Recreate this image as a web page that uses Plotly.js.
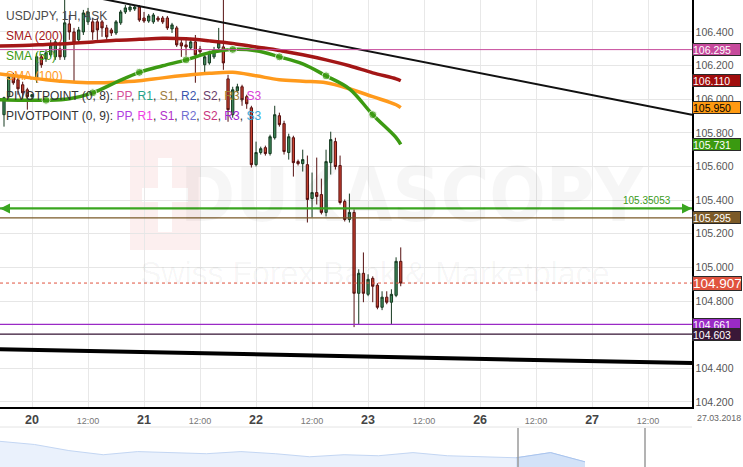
<!DOCTYPE html>
<html><head><meta charset="utf-8">
<script src="https://cdn.plot.ly/plotly-3.0.1.min.js"></script>
<style>html,body{margin:0;padding:0;background:#fff;}#chart{width:743px;height:467px;}</style>
</head><body><div id="chart"></div>
<script>
// ---- DATA ----
// x = trading hours since 2018-03-20 00:00 (weekend removed)
const firstCandleHour = -6;
const candleOpen = [
105.908,106.015,106.139,106.116,106.086,106.056,106.015,106.116,106.252,106.240,
106.264,106.252,106.299,106.252,106.448,106.400,106.353,106.400,106.460,106.460,
106.460,106.460,106.424,106.412,106.394,106.454,106.519,106.531,106.537,106.548,
106.483,106.465,106.460,106.483,106.483,106.483,106.418,106.424,106.335,106.323,
106.305,106.341,106.299,106.205,106.216,106.252,106.305,106.311,106.121,105.908,
106.050,106.074,106.015,105.949,105.611,105.683,105.712,105.677,105.771,105.902,
105.855,105.683,105.771,105.629,105.617,105.611,105.410,105.445,105.433,105.327,
105.623,105.748,105.606,105.392,105.285,105.327,104.846,104.965,104.840,104.935,
104.894,104.763,104.823,104.793,104.834,105.036];
const candleHigh = [
106.015,106.151,106.157,106.127,106.104,106.068,106.032,106.276,106.264,106.293,
106.353,106.353,106.323,106.600,106.501,106.424,106.430,106.531,106.543,106.483,
106.483,106.471,106.442,106.424,106.471,106.531,106.560,106.560,106.560,106.560,
106.519,106.507,106.513,106.495,106.495,106.495,106.454,106.436,106.353,106.353,
106.365,106.382,106.317,106.264,106.288,106.311,106.424,106.600,106.145,106.074,
106.092,106.086,106.027,105.961,105.748,105.718,105.724,105.789,105.961,105.920,
105.872,105.795,105.783,105.641,105.700,105.665,105.564,105.653,105.528,105.700,
105.807,105.771,105.665,105.404,105.439,105.345,104.989,105.089,104.959,104.947,
104.906,104.858,104.858,104.870,105.060,105.119];
const candleLow = [
105.837,105.997,106.086,106.027,105.997,105.938,105.997,106.098,106.187,106.222,
106.252,106.234,106.234,106.234,106.353,106.104,106.335,106.382,106.442,106.353,
106.353,106.371,106.353,106.376,106.382,106.442,106.507,106.519,106.525,106.460,
106.454,106.454,106.448,106.460,106.448,106.412,106.394,106.311,106.252,106.252,
106.293,106.098,106.264,106.145,106.205,106.240,106.293,106.175,105.866,105.890,
106.038,105.961,105.943,105.594,105.600,105.671,105.665,105.665,105.760,105.837,
105.671,105.641,105.540,105.606,105.570,105.267,105.297,105.374,105.315,105.303,
105.552,105.582,105.374,105.273,105.267,104.645,104.662,104.793,104.829,104.793,
104.751,104.746,104.781,104.662,104.823,104.888];
const candleClose = [
106.009,106.133,106.098,106.062,106.038,106.015,106.027,106.252,106.205,106.276,
106.323,106.341,106.252,106.454,106.400,106.335,106.412,106.513,106.519,106.400,
106.412,106.424,106.371,106.394,106.460,106.519,106.543,106.548,106.548,106.471,
106.465,106.495,106.501,106.471,106.460,106.424,106.442,106.323,106.317,106.311,
106.341,106.264,106.282,106.252,106.276,106.293,106.335,106.216,105.938,106.056,
106.074,105.997,105.973,105.611,105.683,105.706,105.677,105.777,105.908,105.849,
105.689,105.777,105.623,105.617,105.641,105.404,105.445,105.422,105.327,105.629,
105.760,105.600,105.386,105.285,105.327,104.846,104.965,104.846,104.929,104.888,
104.763,104.823,104.793,104.840,105.036,104.907];

const smaHour = [-7,-2,3,8,13,18,23,28,33,38,43,48,53,58,63,68,73,78,79];
const sma200 = [106.317,106.320,106.326,106.332,106.341,106.350,106.356,106.362,106.359,106.347,106.332,106.311,106.290,106.264,106.234,106.199,106.157,106.121,106.110];
const sma100 = [106.151,106.133,106.116,106.104,106.098,106.101,106.110,106.127,106.142,106.154,106.160,106.139,106.116,106.107,106.098,106.062,106.015,105.967,105.950];
const sma50  = [105.997,105.994,105.994,106.003,106.038,106.101,106.160,106.199,106.234,106.276,106.296,106.288,106.252,106.210,106.139,106.062,105.908,105.772,105.731];

const trendThinHour = [10, 141.4];
const trendThinPrice = [106.624, 105.908];
const trendThickHour = [-6.86, 141.4];
const trendThickPrice = [104.514, 104.431];

const hLevel = 105.35053;
const pivotLevels = [106.295, 105.295, 104.661, 104.603];
const lastPrice = 104.907;

const tickHours = [0,12,24,36,48,60,72,84,96,108,120,132];
const tickLabels = ['20','12:00','21','12:00','22','12:00','23','12:00','26','12:00','27','12:00'];
const priceTicks = [104.2,104.4,104.6,104.8,105.0,105.2,105.4,105.6,105.8,106.0,106.2,106.4];

const navIndex = [0,1,2,3,4,5,6,7,8,9,10,11,12,13,14,15,16,17];
const navPrice = [106.78,106.44,105.78,105.33,105.67,105.56,105.44,105.67,105.44,105.11,105.33,105.22,105.56,105.22,105.11,105.00,105.56,104.56];

// ---- BUILD ----
const candleHour = candleOpen.map((_, i) => firstCandleHour + i);
const W = 743, H = 467, PW = 692;
const py = p => 1 - p / H;   // paper y from pixel y
const px = p => p / PW;      // paper x from pixel x

const traces = [
  {type:'candlestick', x:candleHour, open:candleOpen, high:candleHigh, low:candleLow, close:candleClose,
   increasing:{line:{color:'#163a20', width:1}, fillcolor:'#3d8a5a'},
   decreasing:{line:{color:'#561010', width:1}, fillcolor:'#c8412f'},
   whiskerwidth:0, hoverinfo:'skip', xaxis:'x', yaxis:'y'},
  {type:'scatter', mode:'lines', x:smaHour, y:sma200,
   line:{color:'#a31616', width:3.5, shape:'spline'}, hoverinfo:'skip'},
  {type:'scatter', mode:'lines', x:smaHour, y:sma100,
   line:{color:'#ff9a1c', width:3.5, shape:'spline'}, hoverinfo:'skip'},
  {type:'scatter', mode:'lines+markers', x:smaHour, y:sma50,
   line:{color:'#3c9a12', width:3.5, shape:'spline'},
   marker:{color:'#3c9a12', size:smaHour.map((_,i)=> (i>=2 && i<=16 && i%2===0) ? 8 : 0)}, hoverinfo:'skip'},
  {type:'scatter', mode:'lines', x:trendThinHour, y:trendThinPrice,
   line:{color:'#111', width:2}, hoverinfo:'skip'},
  {type:'scatter', mode:'lines', x:trendThickHour, y:trendThickPrice,
   line:{color:'#000', width:4}, hoverinfo:'skip'},
  {type:'scatter', mode:'lines', x:navIndex, y:navPrice, fill:'tozeroy',
   fillcolor:'#eaf1fc', line:{color:'#c3d6f3', width:1}, xaxis:'x2', yaxis:'y2', hoverinfo:'skip'},
  {type:'scatter', mode:'lines', x:navIndex.slice(15), y:navPrice.slice(15), fill:'tozeroy',
   fillcolor:'#d3e2f8', line:{color:'#a9c4ee', width:1}, xaxis:'x2', yaxis:'y2', hoverinfo:'skip'}
];

const boxes = [
  {v:pivotLevels[0], bg:'#c64a9c', fg:'#fff'},
  {v:sma200[sma200.length-1], bg:'#a00d0d', fg:'#fff'},
  {v:sma100[sma100.length-1], bg:'#ff9a12', fg:'#000'},
  {v:sma50[sma50.length-1], bg:'#3a9a10', fg:'#fff'},
  {v:pivotLevels[1], bg:'#7b5a28', fg:'#fff'},
  {v:lastPrice, bg:'#e0533f', fg:'#fff', big:true},
  {v:pivotLevels[2], bg:'#9a2ac6', fg:'#fff'},
  {v:pivotLevels[3], bg:'#3a1838', fg:'#fff'}
];

const ann = [];
// watermark (very faint)
ann.push({xref:'paper', yref:'paper', x:px(412), y:py(195), xanchor:'center', yanchor:'middle', showarrow:false,
  text:'<b>DUKASCOPY</b>', font:{family:'DejaVu Sans Condensed, DejaVu Sans', size:74, color:'rgba(0,0,0,0.035)'}});
ann.push({xref:'paper', yref:'paper', x:px(375), y:py(273), xanchor:'center', yanchor:'middle', showarrow:false,
  text:'Swiss Forex Bank &amp; Marketplace', font:{family:'Liberation Sans', size:32, color:'rgba(0,0,0,0.04)'}});

const C = (c,t)=>`<span style="color:${c}">${t}</span>`;
const legendLines = [
  {t:C('#4a4a4a','USD/JPY, 1H, ASK'), y:15.5},
  {t:C('#a31616','SMA (200)'), y:35.5},
  {t:C('#3c9a12','SMA (50)'), y:55.5},
  {t:C('#ff9a1c','SMA (100)'), y:75.5},
  {t:C('#333','PIVOTPOINT (0, 8): ')+C('#d4519b','PP')+C('#333',', ')+C('#23a38a','R1')+C('#333',', ')+C('#9c7b3c','S1')+C('#333',', ')+C('#3a55ad','R2')+C('#333',', ')+C('#6b3d6b','S2')+C('#333',', ')+C('#a07d2e','R3')+C('#333',', ')+C('#d83fd8','S3'), y:96},
  {t:C('#333','PIVOTPOINT (0, 9): ')+C('#b13fe0','PP')+C('#333',', ')+C('#f23ce6','R1')+C('#333',', ')+C('#b12fc9','S1')+C('#333',', ')+C('#6f70d0','R2')+C('#333',', ')+C('#c8357e','S2')+C('#333',', ')+C('#9b25d0','R3')+C('#333',', ')+C('#3aa6d6','S3'), y:116}
];
legendLines.forEach(l => ann.push({xref:'paper', yref:'paper', x:0, xshift:4, y:py(l.y), xanchor:'left', yanchor:'middle',
  showarrow:false, text:l.t, font:{family:'Liberation Sans, Arial', size:12}}));

// right value boxes
boxes.forEach(b => ann.push({xref:'paper', yref:'y', x:1, y:b.v, xanchor:'left', yanchor:'middle', showarrow:false,
  text:b.v.toFixed(3), bgcolor:b.bg, bordercolor:'#2a2a2a', borderwidth:1, borderpad:0,
  width: b.big ? 48 : 47, height: b.big ? 13 : 11, align:'left',
  font:{family:'Liberation Sans, Arial', size: b.big ? 13.5 : 10.5, color:b.fg}}));

// green level line arrows and label
ann.push({xref:'x', yref:'y', x:-6.857, y:hLevel, ax:10, ay:0, text:'', showarrow:true, arrowhead:2, arrowsize:1, arrowwidth:2, arrowcolor:'#3aa620'});
ann.push({xref:'x', yref:'y', x:141.4, y:hLevel, ax:-10, ay:0, text:'', showarrow:true, arrowhead:2, arrowsize:1, arrowwidth:2, arrowcolor:'#3aa620'});
ann.push({xref:'paper', yref:'y', x:px(673), y:hLevel, yshift:8, xanchor:'right', yanchor:'middle', showarrow:false,
  text:hLevel.toFixed(5), font:{family:'Liberation Sans, Arial', size:10, color:'#3a9a20'}});
// date label
ann.push({xref:'paper', yref:'paper', x:1, xshift:3, y:py(418), xanchor:'left', yanchor:'middle', showarrow:false,
  text:'27.03.2018', font:{family:'Liberation Sans, Arial', size:8.8, color:'#666'}});

const shapes = [
  // watermark logo block
  {type:'rect', xref:'paper', yref:'paper', x0:px(130), x1:px(200), y0:py(250), y1:py(140), fillcolor:'#fcefef', line:{width:0}, layer:'below'},
  {type:'rect', xref:'paper', yref:'paper', x0:px(158), x1:px(172), y0:py(232), y1:py(158), fillcolor:'#ffffff', line:{width:0}, layer:'below'},
  {type:'rect', xref:'paper', yref:'paper', x0:px(142), x1:px(188), y0:py(202), y1:py(188), fillcolor:'#ffffff', line:{width:0}, layer:'below'},
  // level lines
  {type:'line', xref:'paper', x0:0, x1:1, yref:'y', y0:pivotLevels[0], y1:pivotLevels[0], line:{color:'#c64a9c', width:1}},
  {type:'line', xref:'paper', x0:0, x1:1, yref:'y', y0:pivotLevels[1], y1:pivotLevels[1], line:{color:'#7b5a28', width:1.2}},
  {type:'line', xref:'paper', x0:0, x1:1, yref:'y', y0:pivotLevels[2], y1:pivotLevels[2], line:{color:'#9a2ac6', width:1.2}},
  {type:'line', xref:'paper', x0:0, x1:1, yref:'y', y0:pivotLevels[3], y1:pivotLevels[3], line:{color:'#3a1838', width:1.2}},
  {type:'line', xref:'paper', x0:0, x1:1, yref:'y', y0:lastPrice, y1:lastPrice, line:{color:'#e0533f', width:1, dash:'3px,3px'}},
  {type:'line', xref:'paper', x0:0, x1:1, yref:'y', y0:hLevel, y1:hLevel, line:{color:'#3aa620', width:2.2}},
  // navigator frame
  {type:'line', xref:'paper', yref:'paper', x0:0, x1:1, y0:py(427), y1:py(427), line:{color:'#e4e4e4', width:1}},
  {type:'line', xref:'paper', yref:'paper', x0:px(518), x1:px(518), y0:0, y1:py(428), line:{color:'#9a9a9a', width:1.5}},
  {type:'line', xref:'paper', yref:'paper', x0:px(645), x1:px(645), y0:0, y1:py(428), line:{color:'#9a9a9a', width:1.5}}
];

const layout = {
  width:W, height:H, margin:{l:0, r:W-PW, t:0, b:0}, paper_bgcolor:'#fff', plot_bgcolor:'#fff',
  showlegend:false, font:{family:'Liberation Sans, Arial, sans-serif', size:11, color:'#555'},
  xaxis:{type:'linear', range:[-6.857, 141.4], domain:[0,1], anchor:'y',
    tickmode:'array', tickvals:tickHours,
    ticktext:tickLabels.map(t => t.indexOf(':')>=0 ? `<span style="font-size:9px;color:#777">${t}</span>` : `<b>${t}</b>`),
    tickfont:{size:12.5, color:'#444'}, showgrid:true, gridcolor:'#e8e8e8', gridwidth:1, zeroline:false,
    showline:true, linecolor:'#000', linewidth:1.5, ticks:'', rangeslider:{visible:false}, fixedrange:true},
  yaxis:{side:'right', range:[104.17, 106.59], domain:[60/H, 1], anchor:'x',
    tickmode:'array', tickvals:priceTicks, ticktext:priceTicks.map(v=>v.toFixed(3)),
    tickfont:{size:10.5, color:'#555'}, showgrid:true, gridcolor:'#e6e6e6', zeroline:false,
    showline:true, linecolor:'#000', linewidth:1.5, ticks:'', fixedrange:true},
  xaxis2:{domain:[0,1], anchor:'y2', range:[0, 17*PW/585], visible:false, fixedrange:true},
  yaxis2:{domain:[0, 36/H], anchor:'x2', range:[104, 107.9], visible:false, fixedrange:true},
  shapes:shapes, annotations:ann
};

Plotly.newPlot('chart', traces, layout, {staticPlot:true, displayModeBar:false});
</script></body></html>
